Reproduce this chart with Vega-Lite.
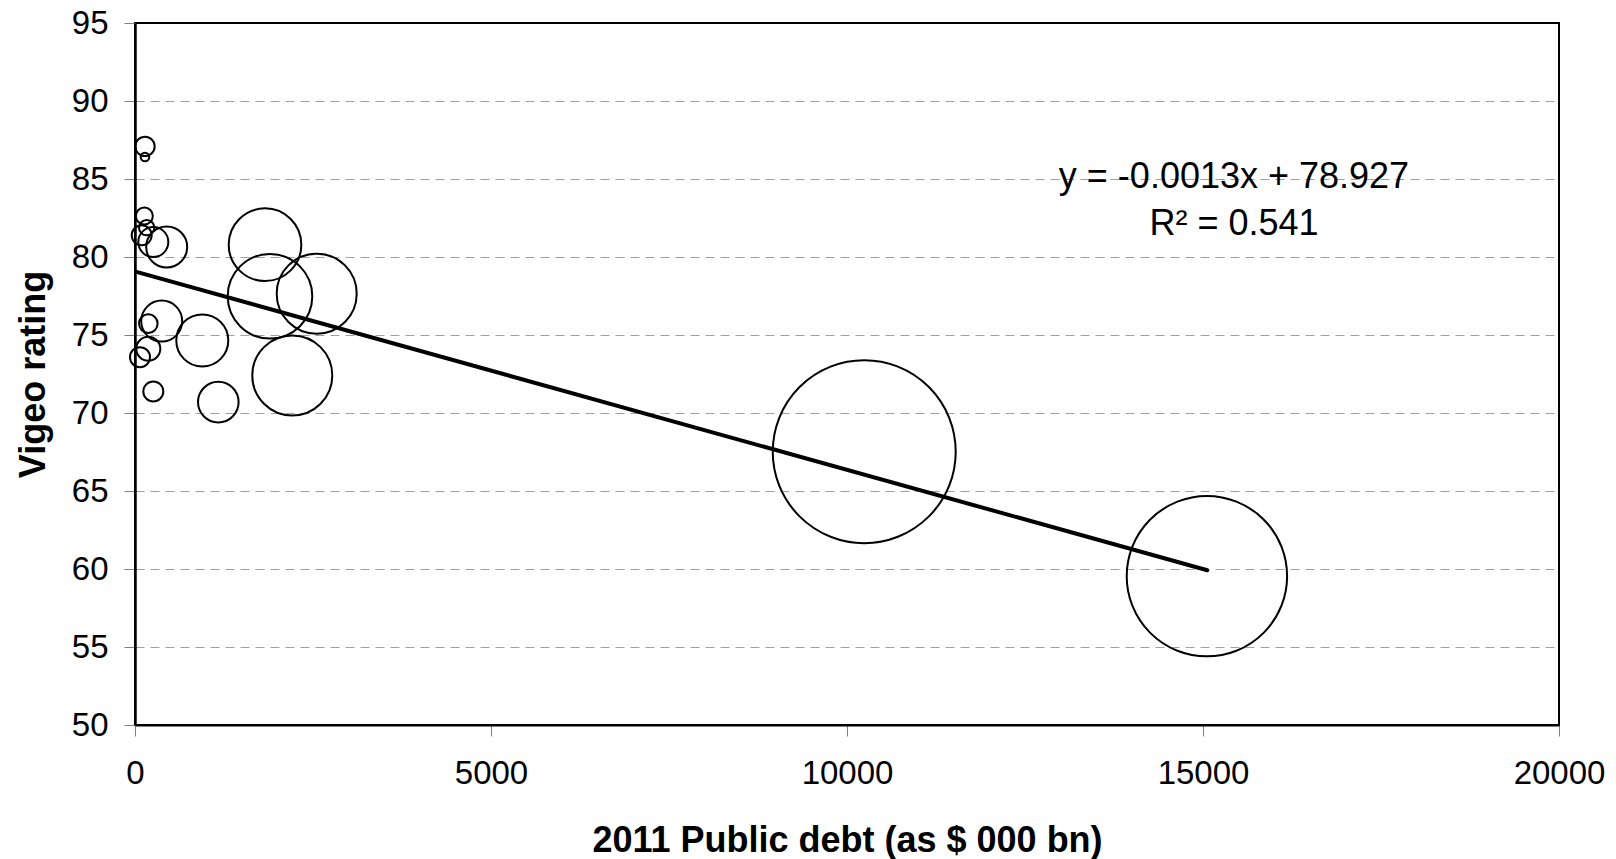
{
  "$schema": "https://vega.github.io/schema/vega-lite/v6.json",
  "width": 1424,
  "height": 702,
  "autosize": "none",
  "padding": {"left": 135, "top": 23, "right": 57, "bottom": 134},
  "background": "white",
  "config": {
    "font": "Liberation Sans",
    "view": {"stroke": "black", "strokeWidth": 2}
  },
  "layer": [
    {
      "data": {
        "values": [
          {"debt": 140, "rating": 87.09, "bubble": 9.4},
          {"debt": 140, "rating": 86.41, "bubble": 1.85},
          {"debt": 131, "rating": 82.63, "bubble": 7.2},
          {"debt": 164, "rating": 81.88, "bubble": 5.9},
          {"debt": 94, "rating": 81.39, "bubble": 10},
          {"debt": 257, "rating": 80.96, "bubble": 22.5},
          {"debt": 445, "rating": 80.64, "bubble": 42},
          {"debt": 1826, "rating": 80.79, "bubble": 131.8},
          {"debt": 1896, "rating": 77.48, "bubble": 178.9},
          {"debt": 2552, "rating": 77.65, "bubble": 160},
          {"debt": 2209, "rating": 72.41, "bubble": 160},
          {"debt": 375, "rating": 75.89, "bubble": 42},
          {"debt": 187, "rating": 75.73, "bubble": 8.65},
          {"debt": 945, "rating": 74.65, "bubble": 67.6},
          {"debt": 187, "rating": 74.12, "bubble": 14.4},
          {"debt": 70, "rating": 73.58, "bubble": 10},
          {"debt": 257, "rating": 71.38, "bubble": 10},
          {"debt": 1170, "rating": 70.7, "bubble": 41.2},
          {"debt": 10242, "rating": 67.52, "bubble": 837},
          {"debt": 15055, "rating": 59.54, "bubble": 643}
        ]
      },
      "mark": {"type": "point", "shape": "circle", "filled": false, "stroke": "black", "strokeWidth": 2, "opacity": 1},
      "encoding": {
        "x": {
          "field": "debt",
          "type": "quantitative",
          "scale": {"domain": [0, 20000], "nice": false, "zero": false},
          "axis": {
            "values": [0, 5000, 10000, 15000, 20000],
            "format": "d",
            "grid": false,
            "domainColor": "black",
            "domainWidth": 2,
            "tickColor": "#808080",
            "tickSize": 11,
            "tickWidth": 1,
            "labelFontSize": 33,
            "labelColor": "black",
            "labelPadding": 21,
            "labelFlush": false,
            "labelOverlap": false,
            "title": "2011 Public debt (as $ 000 bn)",
            "titleFontSize": 36,
            "titleFontWeight": "bold",
            "titleColor": "black",
            "titlePadding": 33
          }
        },
        "y": {
          "field": "rating",
          "type": "quantitative",
          "scale": {"domain": [50, 95], "nice": false, "zero": false},
          "axis": {
            "values": [50, 55, 60, 65, 70, 75, 80, 85, 90, 95],
            "grid": true,
            "gridColor": "#a0a0a0",
            "gridDash": [9, 6],
            "gridWidth": 1,
            "gridOpacity": {"condition": {"test": "datum.value === 50 || datum.value === 95", "value": 0}, "value": 1},
            "domainColor": "black",
            "domainWidth": 2.5,
            "tickColor": "#808080",
            "tickSize": 11,
            "tickWidth": 1,
            "labelFontSize": 33,
            "labelColor": "black",
            "labelPadding": 16,
            "labelFlush": false,
            "labelOverlap": false,
            "title": "Vigeo rating",
            "titleFontSize": 36,
            "titleFontWeight": "bold",
            "titleColor": "black",
            "titlePadding": 19
          }
        },
        "size": {
          "field": "bubble",
          "type": "quantitative",
          "scale": {"type": "linear", "domain": [0, 1000], "range": [0, 40000]},
          "legend": null
        }
      }
    },
    {
      "data": {"values": [{"debt": 20, "rating": 79.05}, {"debt": 15060, "rating": 59.92}]},
      "mark": {"type": "line", "color": "black", "strokeWidth": 4, "strokeCap": "round"},
      "encoding": {
        "x": {"field": "debt", "type": "quantitative"},
        "y": {"field": "rating", "type": "quantitative"}
      }
    },
    {
      "data": {
        "values": [
          {"debt": 15435, "rating": 85.1, "label": "y = -0.0013x + 78.927"},
          {"debt": 15435, "rating": 82.1, "label": "R² = 0.541"}
        ]
      },
      "mark": {"type": "text", "fontSize": 36, "font": "Liberation Sans", "color": "black", "align": "center", "baseline": "middle"},
      "encoding": {
        "x": {"field": "debt", "type": "quantitative"},
        "y": {"field": "rating", "type": "quantitative"},
        "text": {"field": "label", "type": "nominal"}
      }
    }
  ]
}
